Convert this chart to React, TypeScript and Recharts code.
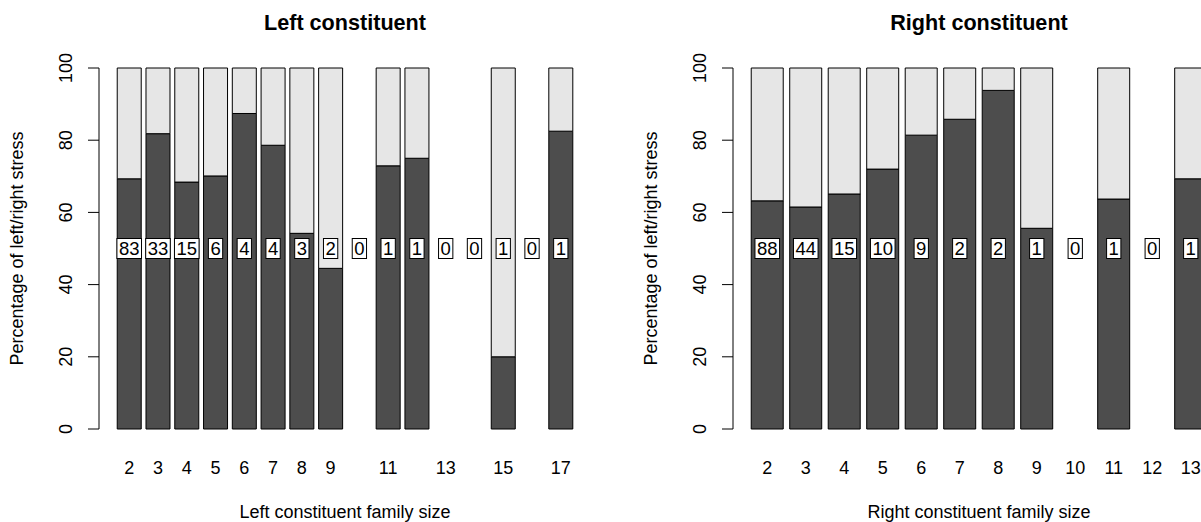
import React from 'react';
import { ComposedChart, Bar, Line, XAxis, YAxis } from 'recharts';

// left constituent family size
const leftSizes = ['2', '3', '4', '5', '6', '7', '8', '9', '10', '11', '12', '13', '14', '15', '16', '17'];
const leftDark = [69.3, 81.8, 68.4, 70.1, 87.4, 78.6, 54.2, 44.5, null, 72.9, 75.0, null, null, 20.0, null, 82.5];
const leftCounts = [83, 33, 15, 6, 4, 4, 3, 2, 0, 1, 1, 0, 0, 1, 0, 1];
const leftTickLabels = ['2', '3', '4', '5', '6', '7', '8', '9', '11', '13', '15', '17'];

// right constituent family size
const rightSizes = ['2', '3', '4', '5', '6', '7', '8', '9', '10', '11', '12', '13'];
const rightDark = [63.2, 61.5, 65.1, 72.0, 81.4, 85.8, 93.8, 55.6, null, 63.7, null, 69.3];
const rightCounts = [88, 44, 15, 10, 9, 2, 2, 1, 0, 1, 0, 1];
const rightTickLabels = ['2', '3', '4', '5', '6', '7', '8', '9', '10', '11', '12', '13'];

const yTicks = [0, 20, 40, 60, 80, 100];
const countLevel = 50;

const FONT = '"Liberation Sans", Arial, Helvetica, sans-serif';
const FIG_W = 634;
const H = 522;
const PLOT_LEFT = 99;
const PLOT_W = 492;
const PLOT_TOP = 68;
const PLOT_BOTTOM = 429;
const X_AXIS_H = 60;

interface PanelProps {
  title: string;
  xTitle: string;
  sizes: string[];
  dark: (number | null)[];
  counts: number[];
  tickLabels: string[];
}

function CountBox(props: any) {
  const { cx, cy, index, payload } = props;
  const label = String(payload.count);
  const w = label.length * 10.3 + 4;
  const h = 20;
  return (
    <g key={`cnt-${index}`}>
      <rect x={cx - w / 2} y={cy - h / 2} width={w} height={h} fill="#fff" stroke="#000" strokeWidth={1} />
      <text x={cx} y={cy + 6.6} textAnchor="middle" fontSize={18.5} fontFamily={FONT} fill="#000">
        {label}
      </text>
    </g>
  );
}

function Panel({ title, xTitle, sizes, dark, counts, tickLabels }: PanelProps) {
  const data = sizes.map((s, i) => ({
    size: s,
    dark: dark[i],
    light: dark[i] === null ? null : 100 - (dark[i] as number),
    count: counts[i],
  }));

  // R barplot: bars 1 unit wide, 0.2 space, 4% axis extension
  const span = sizes.length * 1.2 - 0.2;
  const pxPerUnit = PLOT_W / (span * 1.08);
  const pad = (0.04 * span - 0.1) * pxPerUnit;

  const XTick = (p: any) => {
    const v = p.payload.value;
    if (!tickLabels.includes(v)) return <g />;
    return (
      <text x={p.x} y={p.y + 45} textAnchor="middle" fontSize={18} fontFamily={FONT} fill="#000">
        {v}
      </text>
    );
  };

  const YTick = (p: any) => {
    const bx = p.x - 16;
    return (
      <text
        x={bx}
        y={p.y}
        transform={`rotate(-90, ${bx}, ${p.y})`}
        textAnchor="middle"
        fontSize={18}
        fontFamily={FONT}
        fill="#000"
      >
        {p.payload.value}
      </text>
    );
  };

  return (
    <div style={{ position: 'absolute', top: 0, width: FIG_W, height: H }}>
      <div
        style={{
          position: 'absolute',
          left: PLOT_LEFT,
          top: 11.7,
          width: PLOT_W,
          textAlign: 'center',
          fontFamily: FONT,
          fontWeight: 'bold',
          fontSize: 21.6,
          lineHeight: '21.6px',
          whiteSpace: 'nowrap',
        }}
      >
        {title}
      </div>
      <ComposedChart
        width={FIG_W}
        height={H}
        data={data}
        barCategoryGap="8.333%"
        margin={{ top: PLOT_TOP, right: FIG_W - PLOT_LEFT - PLOT_W, bottom: H - PLOT_BOTTOM - X_AXIS_H, left: 0 }}
      >
        <XAxis
          dataKey="size"
          type="category"
          height={X_AXIS_H}
          padding={{ left: pad, right: pad }}
          axisLine={false}
          tickLine={false}
          tickSize={0}
          tickMargin={0}
          interval={0}
          tick={XTick}
          label={({ viewBox }: any) => (
            <text
              x={viewBox.x + viewBox.width / 2}
              y={518}
              textAnchor="middle"
              fontSize={18}
              fontFamily={FONT}
              fill="#000"
            >
              {xTitle}
            </text>
          )}
        />
        <YAxis
          width={PLOT_LEFT}
          domain={[0, 100]}
          ticks={yTicks}
          interval={0}
          tickSize={11}
          tickMargin={0}
          axisLine={{ stroke: '#000', strokeWidth: 1 }}
          tickLine={{ stroke: '#000', strokeWidth: 1 }}
          tick={YTick}
          label={({ viewBox }: any) => {
            const cy = viewBox.y + viewBox.height / 2;
            return (
              <text
                x={23}
                y={cy}
                transform={`rotate(-90, 23, ${cy})`}
                textAnchor="middle"
                fontSize={18}
                fontFamily={FONT}
                fill="#000"
              >
                Percentage of left/right stress
              </text>
            );
          }}
        />
        <Bar dataKey="dark" stackId="a" fill="#4d4d4d" stroke="#000" strokeWidth={1} isAnimationActive={false} />
        <Bar dataKey="light" stackId="a" fill="#e6e6e6" stroke="#000" strokeWidth={1} isAnimationActive={false} />
        <Line
          dataKey={() => countLevel}
          stroke="none"
          dot={CountBox}
          activeDot={false}
          isAnimationActive={false}
        />
      </ComposedChart>
    </div>
  );
}

export default function App() {
  return (
    <div
      style={{
        position: 'absolute',
        left: 0,
        top: 0,
        width: 1201,
        height: 522,
        overflow: 'hidden',
        background: '#fff',
      }}
    >
      <div style={{ position: 'absolute', left: 0, top: 0 }}>
        <Panel
          title="Left constituent"
          xTitle="Left constituent family size"
          sizes={leftSizes}
          dark={leftDark}
          counts={leftCounts}
          tickLabels={leftTickLabels}
        />
      </div>
      <div style={{ position: 'absolute', left: FIG_W, top: 0 }}>
        <Panel
          title="Right constituent"
          xTitle="Right constituent family size"
          sizes={rightSizes}
          dark={rightDark}
          counts={rightCounts}
          tickLabels={rightTickLabels}
        />
      </div>
    </div>
  );
}
